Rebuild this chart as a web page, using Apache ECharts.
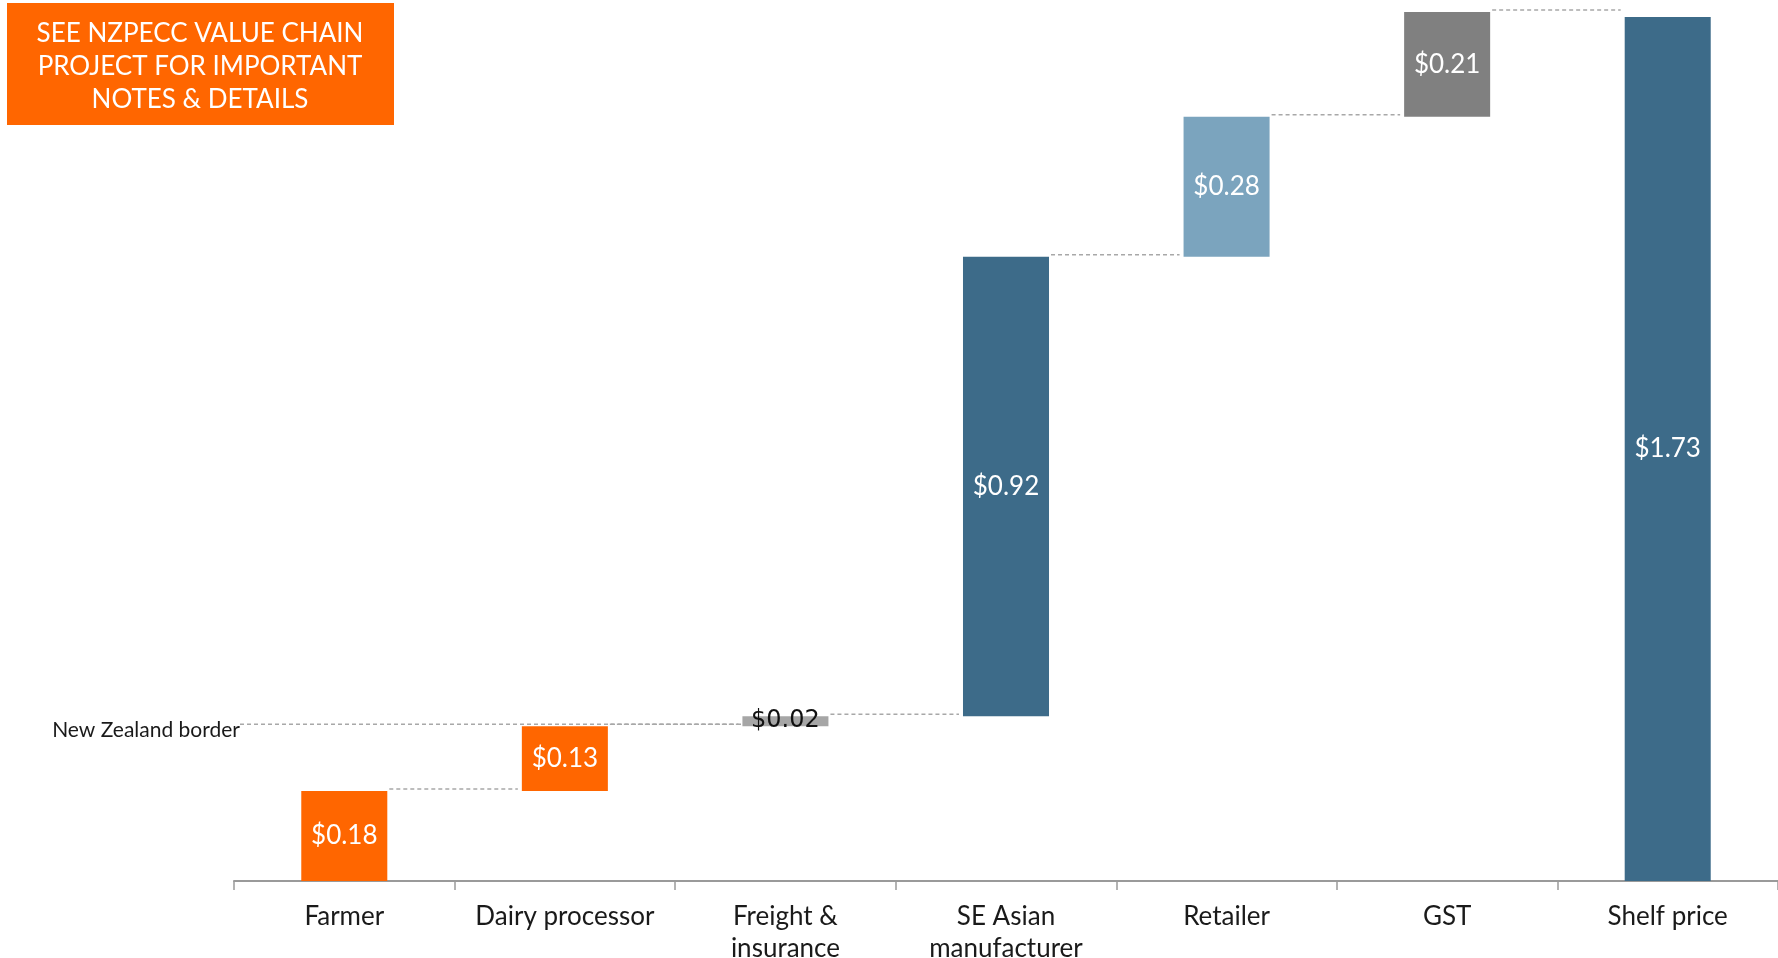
<!DOCTYPE html>
<html>
<head>
<meta charset="utf-8">
<script src="https://cdn.jsdelivr.net/npm/echarts@6/dist/echarts.min.js"></script>
<style>
html,body{margin:0;padding:0;background:#fff;}
#chart{width:1778px;height:958px;}
</style>
</head>
<body>
<div id="chart"></div>
<script>
var categories = ['Farmer', 'Dairy processor', 'Freight &\ninsurance', 'SE Asian\nmanufacturer', 'Retailer', 'GST', 'Shelf price'];
var values = [0.18, 0.13, 0.02, 0.92, 0.28, 0.21, 1.73];
var isTotal = [false, false, false, false, false, false, true];
var barColors = ['#FF6600', '#FF6600', '#A6A6A6', '#3D6B89', '#7BA4BE', '#808080', '#3D6B89'];
var labelColors = ['#fff', '#fff', '#111', '#fff', '#fff', '#fff', '#fff'];
var borderLabel = 'New Zealand border';
var borderAfterIndex = 1; // border level = cumulative after Dairy processor
var noteText = 'SEE NZPECC VALUE CHAIN\nPROJECT FOR IMPORTANT\nNOTES & DETAILS';

var FONT = 'Lato, "Open Sans", sans-serif';
var BAR_RATIO = 0.39;

// build waterfall bases and cumulative tops
var bases = [], tops = [], run = 0;
for (var i = 0; i < values.length; i++) {
  if (isTotal[i]) { bases.push(0); tops.push(values[i]); }
  else { bases.push(run); run += values[i]; tops.push(run); }
}
var connectorData = [];
for (var j = 0; j < values.length - 1; j++) connectorData.push([j, tops[j]]);
var borderLevel = tops[borderAfterIndex];

var chart = echarts.init(document.getElementById('chart'));
chart.setOption({
  animation: false,
  backgroundColor: '#fff',
  grid: { left: 234, right: 0, top: 2, bottom: 77, containLabel: false, outerBoundsMode: 'none' },
  xAxis: {
    type: 'category',
    data: categories,
    axisLine: { lineStyle: { color: '#9a9a9a', width: 2 } },
    axisTick: { show: true, length: 9, lineStyle: { color: '#9a9a9a', width: 1.5 } },
    axisLabel: { color: '#1a1a1a', fontSize: 26, lineHeight: 32, margin: 20, fontFamily: FONT, interval: 0 }
  },
  yAxis: { type: 'value', min: 0, max: 1.76, show: false, splitLine: { show: false } },
  series: [
    {
      type: 'custom',
      name: 'border',
      z: 1,
      data: [[0, borderLevel]],
      renderItem: function (params, api) {
        var band = api.size([1, 0])[0];
        var p0 = api.coord([0, api.value(1)]);
        var p2 = api.coord([2, api.value(1)]);
        var x0 = p0[0] - band / 2;
        var x1 = p2[0] - band * BAR_RATIO / 2;
        return {
          type: 'group',
          children: [
            { type: 'line', shape: { x1: x0 + 6, y1: p0[1] - 2, x2: x1, y2: p0[1] - 2 },
              style: { stroke: '#a8a8a8', lineWidth: 1.5, lineDash: [4, 3] } },
            { type: 'text', x: x0 + 6, y: p0[1] + 4,
              style: { text: borderLabel, fill: '#1a1a1a', font: '21px ' + FONT, align: 'right', verticalAlign: 'middle' } }
          ]
        };
      }
    },
    {
      type: 'custom',
      name: 'connectors',
      z: 1,
      data: connectorData,
      renderItem: function (params, api) {
        var band = api.size([1, 0])[0];
        var bw = band * BAR_RATIO;
        var i = api.value(0), lvl = api.value(1);
        var a = api.coord([i, lvl]);
        var b = api.coord([i + 1, lvl]);
        return { type: 'line', shape: { x1: a[0] + bw / 2 + 2, y1: a[1] - 2, x2: b[0] - bw / 2 - 4, y2: b[1] - 2 },
          style: { stroke: '#a8a8a8', lineWidth: 1.5, lineDash: [4, 3] } };
      }
    },
    {
      type: 'bar',
      stack: 'wf',
      barWidth: (BAR_RATIO * 100) + '%',
      itemStyle: { color: 'transparent' },
      emphasis: { disabled: true },
      data: bases
    },
    {
      type: 'bar',
      stack: 'wf',
      z: 3,
      data: values.map(function (v, k) {
        var d = {
          value: v,
          itemStyle: { color: barColors[k] },
          label: { color: labelColors[k] }
        };
        if (labelColors[k] !== '#fff') {
          d.label.fontFamily = '"DejaVu Sans", sans-serif';
          d.label.fontSize = 24;
        }
        return d;
      }),
      label: {
        show: true,
        position: 'inside',
        fontSize: 26,
        fontFamily: FONT,
        formatter: function (p) { return '$' + p.value.toFixed(2); }
      }
    }
  ],
  graphic: [
    { type: 'rect', x: 7, y: 3, shape: { width: 387, height: 122 }, style: { fill: '#FF6600' } },
    { type: 'text', x: 200, y: 67, style: { text: noteText, fill: '#fff', font: '26px ' + FONT, lineHeight: 33, align: 'center', verticalAlign: 'middle' } }
  ]
});
</script>
</body>
</html>
